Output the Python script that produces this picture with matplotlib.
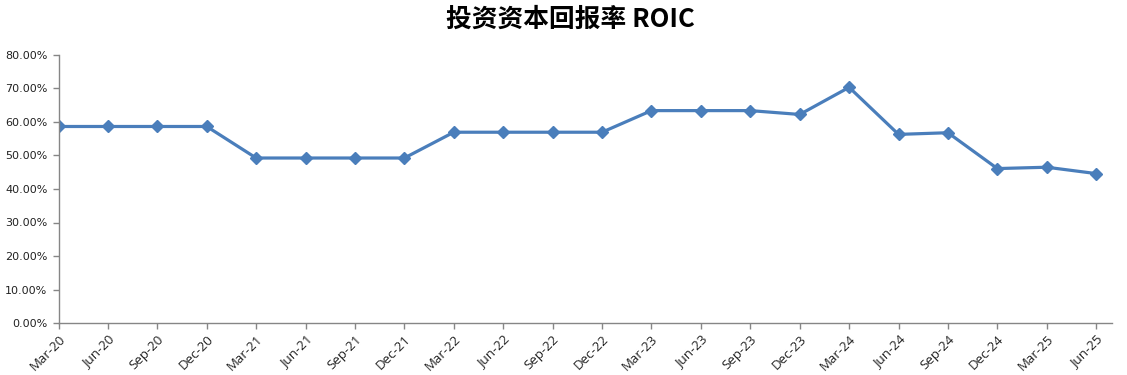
import matplotlib
matplotlib.use("Agg")
import matplotlib.pyplot as plt
from matplotlib.ticker import FuncFormatter, MultipleLocator

quarters = ["Mar-20", "Jun-20", "Sep-20", "Dec-20", "Mar-21", "Jun-21", "Sep-21", "Dec-21",
            "Mar-22", "Jun-22", "Sep-22", "Dec-22", "Mar-23", "Jun-23", "Sep-23", "Dec-23",
            "Mar-24", "Jun-24", "Sep-24", "Dec-24", "Mar-25", "Jun-25"]
roic = [0.5866, 0.5866, 0.5866, 0.5866, 0.4925, 0.4925, 0.4925, 0.4925,
        0.5695, 0.5695, 0.5695, 0.5695, 0.6340, 0.6340, 0.6340, 0.6225,
        0.7035, 0.5630, 0.5680, 0.4610, 0.4650, 0.4460]
title = "投资资本回报率 ROIC"

fig = plt.figure(figsize=(11.27, 3.75), dpi=100)
ax = fig.add_axes([58.5/1127, 52/375, (1112-58.5)/1127, (323-55)/375])

x = list(range(len(quarters)))
ax.plot(x, roic, color="#4A7EBB", lw=2.3, marker="D", ms=6.5, mfc="#4A7EBB", mec="#4A7EBB")

ax.set_ylim(0, 0.8)
ax.set_xlim(0, len(quarters) - 1 + 0.32)
ax.yaxis.set_major_locator(MultipleLocator(0.1))
ax.yaxis.set_major_formatter(FuncFormatter(lambda v, p: f"{v*100:.2f}%"))
ax.set_xticks(x)
ax.set_xticklabels(quarters, rotation=45, ha="right", rotation_mode="anchor",
                   fontsize=9.5, family=["Open Sans", "DejaVu Sans"], color="#222222")
for lab in ax.get_yticklabels():
    lab.set_fontsize(8)
    lab.set_family(["DejaVu Sans"])
    lab.set_color("#222222")

for s in ["top", "right"]:
    ax.spines[s].set_visible(False)
for s in ["left", "bottom"]:
    ax.spines[s].set_color("#868686")
    ax.spines[s].set_linewidth(1.0)
ax.tick_params(axis="both", color="#868686", length=4, width=1, direction="out")
ax.tick_params(axis="y", pad=4)
ax.tick_params(axis="x", pad=3)

fig.text(0.506, 0.95, title, ha="center", va="center", fontsize=18.5, fontweight="bold",
         family=["Noto Sans CJK SC", "DejaVu Sans"], color="black")

fig.savefig("out.png", dpi=100)
